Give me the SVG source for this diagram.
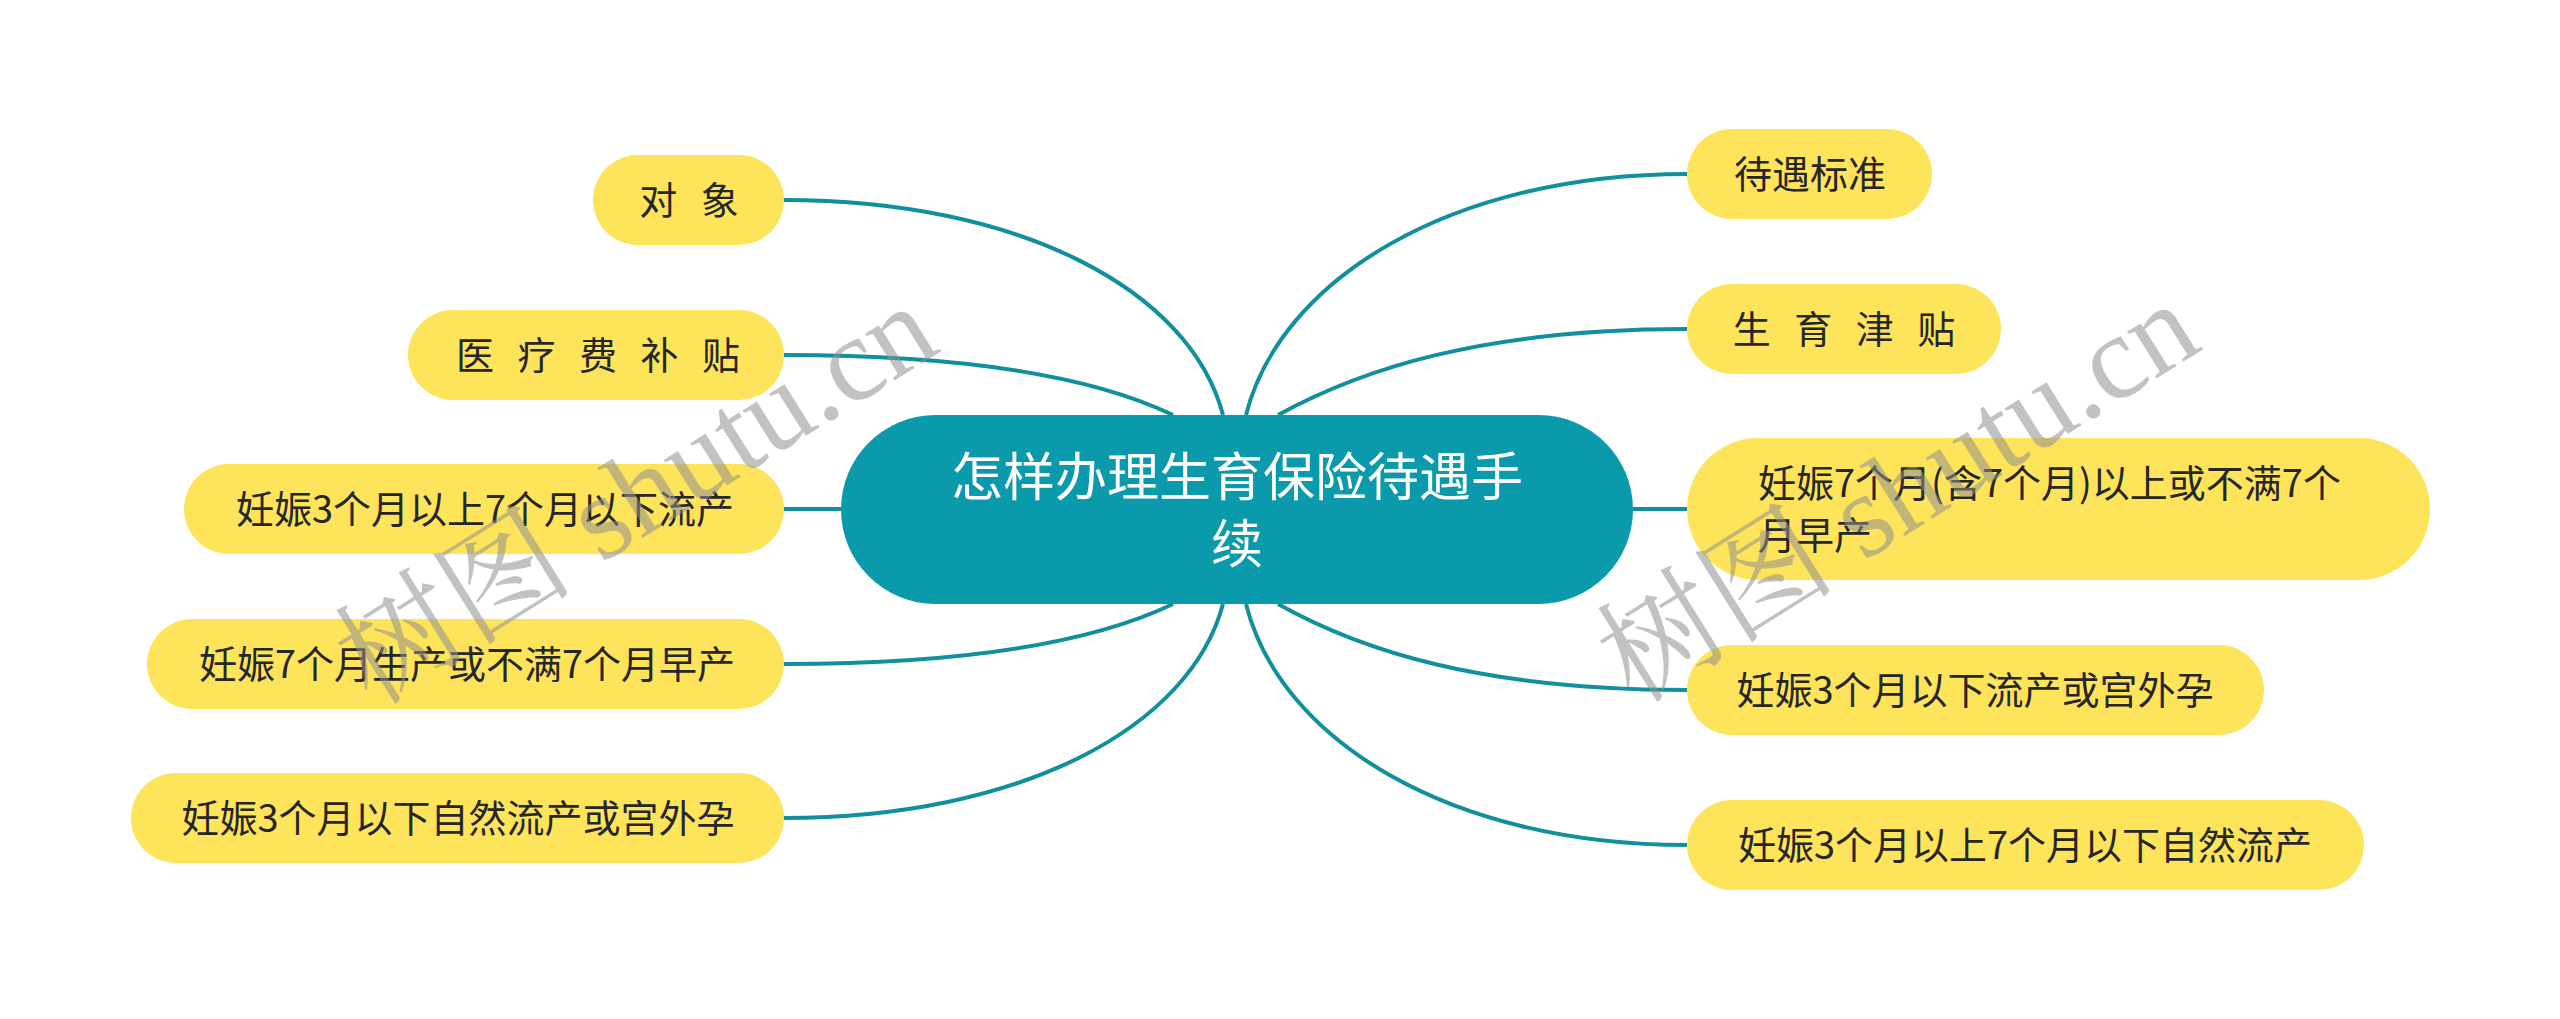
<svg xmlns="http://www.w3.org/2000/svg" width="2560" height="1019" viewBox="0 0 2560 1019">
<style>
.leaf{fill:#fde45b}
.lt{font-family:"Noto Sans CJK SC","Noto Sans",sans-serif;font-size:38px;fill:#262626;text-anchor:middle}
.lt2{font-family:"Noto Sans CJK SC","Noto Sans",sans-serif;font-size:38px;fill:#262626}
.sp{word-spacing:15px}
.root{fill:#0a9aab}
.rt{font-family:"Noto Sans CJK SC","Noto Sans",sans-serif;font-size:52px;fill:#ffffff;text-anchor:middle}
.ln{fill:none;stroke:#108f9d;stroke-width:4}
.wm{font-family:"Liberation Serif","Noto Serif CJK SC","Noto Sans CJK SC",serif;font-size:120px;fill:#8f8f8f;fill-opacity:0.55}
</style>
<rect width="2560" height="1019" fill="#ffffff"/>
<g id="connectors">
<path class="ln" d="M784,200 C1020,200 1190,290 1223,415"/>
<path class="ln" d="M784,355 C980,355 1100,380 1173,415"/>
<path class="ln" d="M784,509 L841,509"/>
<path class="ln" d="M784,664 C980,664 1100,639 1173,604"/>
<path class="ln" d="M784,818 C1020,818 1190,728 1223,604"/>
<path class="ln" d="M1687,174 C1450,174 1280,280 1246,415"/>
<path class="ln" d="M1687,329 C1480,329 1360,370 1278,415"/>
<path class="ln" d="M1633,509 L1687,509"/>
<path class="ln" d="M1687,690 C1480,690 1360,650 1278,604"/>
<path class="ln" d="M1687,845 C1450,845 1280,740 1246,604"/>
</g>
<g id="root">
<rect class="root" x="841" y="415" width="792" height="189" rx="94.5"/>
<text class="rt"><tspan x="1237" y="496">怎样办理生育保险待遇手</tspan><tspan x="1237" y="563">续</tspan></text>
</g>
<g id="n-duixiang">
<rect class="leaf" x="593" y="155" width="191" height="90" rx="45"/>
<text class="lt sp" x="689" y="214">对 象</text>
</g>
<g id="n-yiliao">
<rect class="leaf" x="408" y="310" width="376" height="90" rx="45"/>
<text class="lt sp" x="598" y="369">医 疗 费 补 贴</text>
</g>
<g id="n-l3">
<rect class="leaf" x="184" y="464" width="600" height="90" rx="45"/>
<text class="lt" x="485" y="523">妊娠3个月以上7个月以下流产</text>
</g>
<g id="n-l4">
<rect class="leaf" x="147" y="619" width="637" height="90" rx="45"/>
<text class="lt" x="467" y="678">妊娠7个月生产或不满7个月早产</text>
</g>
<g id="n-l5">
<rect class="leaf" x="131" y="773" width="653" height="90" rx="45"/>
<text class="lt" x="458" y="832">妊娠3个月以下自然流产或宫外孕</text>
</g>
<g id="n-daiyu">
<rect class="leaf" x="1687" y="129" width="245" height="90" rx="45"/>
<text class="lt" x="1810" y="188">待遇标准</text>
</g>
<g id="n-shengyu">
<rect class="leaf" x="1687" y="284" width="314" height="90" rx="45"/>
<text class="lt sp" x="1844" y="343">生 育 津 贴</text>
</g>
<g id="n-r3">
<rect class="leaf" x="1687" y="438" width="743" height="142" rx="71"/>
<text class="lt2"><tspan x="1758" y="497">妊娠7个月(含7个月)以上或不满7个</tspan><tspan x="1758" y="549">月早产</tspan></text>
</g>
<g id="n-r4">
<rect class="leaf" x="1687" y="645" width="577" height="90" rx="45"/>
<text class="lt" x="1975" y="704">妊娠3个月以下流产或宫外孕</text>
</g>
<g id="n-r5">
<rect class="leaf" x="1687" y="800" width="677" height="90" rx="45"/>
<text class="lt" x="2025" y="859">妊娠3个月以上7个月以下自然流产</text>
</g>
<g id="watermarks">
<text class="wm" transform="translate(372,707) rotate(-32)">树图 shutu.cn</text>
<text class="wm" transform="translate(1634,705) rotate(-32)">树图 shutu.cn</text>
</g>
</svg>
